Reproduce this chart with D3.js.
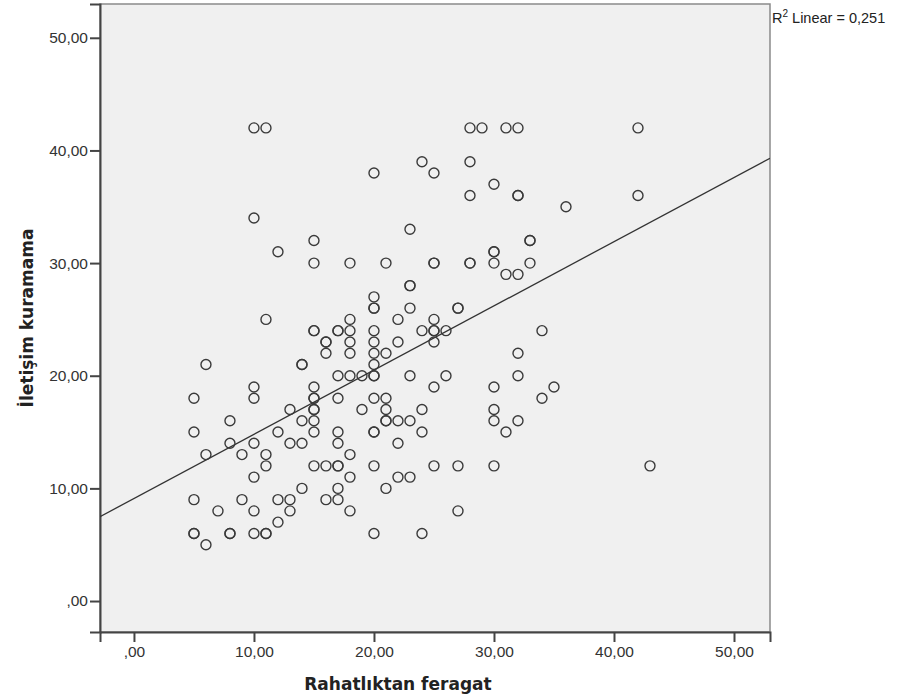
<!DOCTYPE html>
<html>
<head>
<meta charset="utf-8">
<script src="https://cdn.jsdelivr.net/npm/d3@7"></script>
<style>
  body { margin: 0; background: #fff; }
</style>
</head>
<body>
<div id="chart"></div>
<script>
// data (Rahatlıktan feragat, İletişim kuramama)
var xVals = [10,11,28,29,31,32,42, 24,28, 20,25, 30, 28,32,32,42, 36, 10, 23, 15,33,33,
  12,30,30, 15,18,21,25,25,28,28,30,33, 31,32, 23,23, 20, 20,20,23,27,27, 11,18,22,25,
  15,15,17,17,18,20,24,25,25,26,34, 16,16,18,20,22,25, 16,18,20,21,32, 6,14,14,20,
  17,18,19,20,20,23,26,32, 10,15,25,30,35, 5,10,15,15,17,20,21,34, 13,15,15,19,21,24,30,
  8,14,15,21,21,22,23,30,32, 5,12,15,17,20,20,24,31, 8,10,13,14,17,22, 6,9,11,18,
  11,15,16,17,17,20,25,27,30,43, 10,18,22,23, 14,17,21, 5,9,12,13,16,17, 7,10,13,18,27,
  12, 5,5,8,8,10,11,11,20,24, 6];
var yVals = [42,42,42,42,42,42,42, 39,39, 38,38, 37, 36,36,36,36, 35, 34, 33, 32,32,32,
  31,31,31, 30,30,30,30,30,30,30,30,30, 29,29, 28,28, 27, 26,26,26,26,26, 25,25,25,25,
  24,24,24,24,24,24,24,24,24,24,24, 23,23,23,23,23,23, 22,22,22,22,22, 21,21,21,21,
  20,20,20,20,20,20,20,20, 19,19,19,19,19, 18,18,18,18,18,18,18,18, 17,17,17,17,17,17,17,
  16,16,16,16,16,16,16,16,16, 15,15,15,15,15,15,15,15, 14,14,14,14,14,14, 13,13,13,13,
  12,12,12,12,12,12,12,12,12,12, 11,11,11,11, 10,10,10, 9,9,9,9,9,9, 8,8,8,8,8,
  7, 6,6,6,6,6,6,6,6,6, 5];
var xTicks = [0, 10, 20, 30, 40, 50];
var yTicks = [0, 10, 20, 30, 40, 50];
var fitIntercept = 9.1;
var fitSlope = 0.57;
var rSquared = 0.251;
var xTitle = 'Rahatlıktan feragat';
var yTitle = 'İletişim kuramama';

var width = 900, height = 700;
var margin = {top: 4, right: 130, bottom: 68, left: 100};
var plotW = width - margin.left - margin.right,
    plotH = height - margin.top - margin.bottom;

var svg = d3.select('#chart').append('svg')
  .attr('width', width)
  .attr('height', height);

var x = d3.scaleLinear().domain([-2.83, 53]).range([margin.left, margin.left + plotW]);
var y = d3.scaleLinear().domain([-2.75, 53]).range([margin.top + plotH, margin.top]);

// comma decimal, ",00" for zero
var loc = d3.formatLocale({decimal: ',', thousands: '.', grouping: [3], currency: ['', '']});
var fmt2 = loc.format('.2f');
var fmt = function(d) { var s = fmt2(d); return s.indexOf('0,') === 0 ? s.slice(1) : s; };

// plot background
svg.append('rect')
  .attr('x', margin.left).attr('y', margin.top)
  .attr('width', plotW).attr('height', plotH)
  .style('fill', '#f0f0f0')
  .style('stroke', '#8a8a8a')
  .style('stroke-width', 1.5);

svg.append('clipPath').attr('id', 'clip')
  .append('rect')
  .attr('x', margin.left).attr('y', margin.top)
  .attr('width', plotW).attr('height', plotH);

// axes
var xAxis = svg.append('g')
  .attr('transform', 'translate(0,' + (margin.top + plotH) + ')')
  .call(d3.axisBottom(x).tickValues(xTicks).tickFormat(fmt).tickSizeOuter(0).tickSize(10).tickPadding(4));
var yAxis = svg.append('g')
  .attr('transform', 'translate(' + margin.left + ',0)')
  .call(d3.axisLeft(y).tickValues(yTicks).tickFormat(fmt).tickSizeOuter(0).tickSize(10).tickPadding(2));

[xAxis, yAxis].forEach(function(a) {
  a.select('.domain').style('stroke', '#444').style('stroke-width', 2);
  a.selectAll('.tick line').style('stroke', '#444').style('stroke-width', 2);
  a.selectAll('.tick text')
    .style('font-family', '"Liberation Sans", Arial, sans-serif')
    .style('font-size', '15.5px')
    .style('fill', '#333');
});

// fit line
var g = svg.append('g').attr('clip-path', 'url(#clip)');
var xd = x.domain();
g.append('line')
  .attr('x1', x(xd[0])).attr('y1', y(fitIntercept + fitSlope * xd[0]))
  .attr('x2', x(xd[1])).attr('y2', y(fitIntercept + fitSlope * xd[1]))
  .style('stroke', '#333')
  .style('stroke-width', 1.3);

// points
var pts = xVals.map(function(d, i) { return {x: d, y: yVals[i]}; });
g.selectAll('circle')
  .data(pts)
  .enter()
  .append('circle')
  .attr('cx', function(d) { return x(d.x); })
  .attr('cy', function(d) { return y(d.y); })
  .attr('r', 5)
  .style('fill', 'none')
  .style('stroke', '#3a3a3a')
  .style('stroke-width', 1.4);

// axis titles
svg.append('text')
  .attr('x', x(22)).attr('y', 690)
  .attr('text-anchor', 'middle')
  .style('font-family', '"DejaVu Sans", Verdana, sans-serif')
  .style('font-weight', 'bold')
  .style('font-size', '17px')
  .style('fill', '#222')
  .text(xTitle);

svg.append('text')
  .attr('transform', 'translate(33,' + (margin.top + plotH / 2) + ') rotate(-90)')
  .attr('text-anchor', 'middle')
  .style('font-family', '"DejaVu Sans", Verdana, sans-serif')
  .style('font-weight', 'bold')
  .style('font-size', '17px')
  .style('fill', '#222')
  .text(yTitle);

// R2 label
var r2 = svg.append('text')
  .attr('x', margin.left + plotW + 2).attr('y', 23)
  .style('font-family', '"Liberation Sans", Arial, sans-serif')
  .style('font-size', '14.5px')
  .style('fill', '#222');
r2.append('tspan').text('R');
r2.append('tspan').attr('dy', -6).style('font-size', '10px').text('2');
r2.append('tspan').attr('dy', 6).text(' Linear = ' + loc.format('.3f')(rSquared));
</script>
</body>
</html>
